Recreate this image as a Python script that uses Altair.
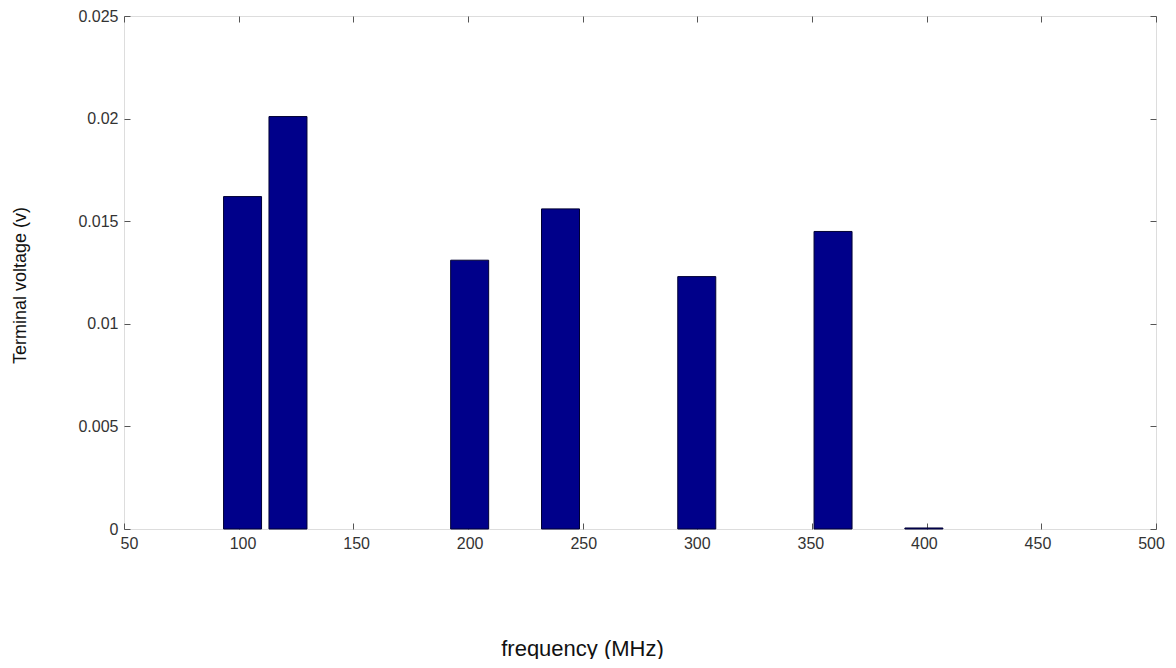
import altair as alt
import pandas as pd

freq = [100, 120, 200, 240, 300, 360, 400]
volt = [0.0162, 0.0201, 0.0131, 0.0156, 0.0123, 0.0145, 0.00005]
x_ticks = [50, 100, 150, 200, 250, 300, 350, 400, 450, 500]
y_ticks = [0, 0.005, 0.01, 0.015, 0.02, 0.025]

df = pd.DataFrame({"freq": freq, "volt": volt})

W, H = 1032, 513
FONT = "Liberation Sans"
xs = alt.Scale(domain=[50, 500], nice=False, zero=False)
ys = alt.Scale(domain=[0, 0.025], nice=False)

base = alt.Chart(df)

bars = base.mark_bar(size=38, color="#00008a", stroke="#000033", strokeWidth=1).encode(
    x=alt.X("freq:Q", scale=xs, axis=alt.Axis(
        values=x_ticks, format="d", ticks=False, domain=False, grid=False,
        labelFont=FONT, labelFontSize=16, labelColor="#333", labelPadding=6,
        title="frequency (MHz)", titleFont=FONT, titleFontSize=22, titleFontWeight="normal",
        titleColor="#111", titleX=458, titleY=119, titleBaseline="middle", titleAlign="center")),
    y=alt.Y("volt:Q", scale=ys, axis=alt.Axis(
        values=y_ticks, format="~g", ticks=False, domain=False, grid=False,
        labelFont=FONT, labelFontSize=16, labelColor="#333", labelPadding=6,
        title="Terminal voltage (v)", titleFont=FONT, titleFontSize=18, titleFontWeight="normal",
        titleColor="#111", titleX=-104, titleY=269, titleBaseline="middle", titleAlign="center",
        titleAngle=-90)),
)

def tick_layer(xorient, yorient):
    return base.mark_point(opacity=0).encode(
        x=alt.X("freq:Q", scale=xs, axis=alt.Axis(
            orient=xorient, offset=-H, values=x_ticks, labels=False, domain=False,
            grid=False, title=None, tickSize=6, tickColor="#555", tickWidth=1)),
        y=alt.Y("volt:Q", scale=ys, axis=alt.Axis(
            orient=yorient, offset=-W, values=y_ticks, labels=False, domain=False,
            grid=False, title=None, tickSize=6, tickColor="#555", tickWidth=1)),
    )

chart = alt.layer(bars, tick_layer("top", "right"), tick_layer("bottom", "left")).resolve_scale(
    x="independent", y="independent"
).properties(
    width=W, height=H,
    autosize=alt.AutoSizeParams(type="none"),
    padding={"left": 116, "top": 8, "right": 12, "bottom": 130},
).configure_view(stroke="#555", strokeWidth=1.5).configure(background="white")

chart.save("out.html", embed_options={"renderer": "svg", "actions": False})
